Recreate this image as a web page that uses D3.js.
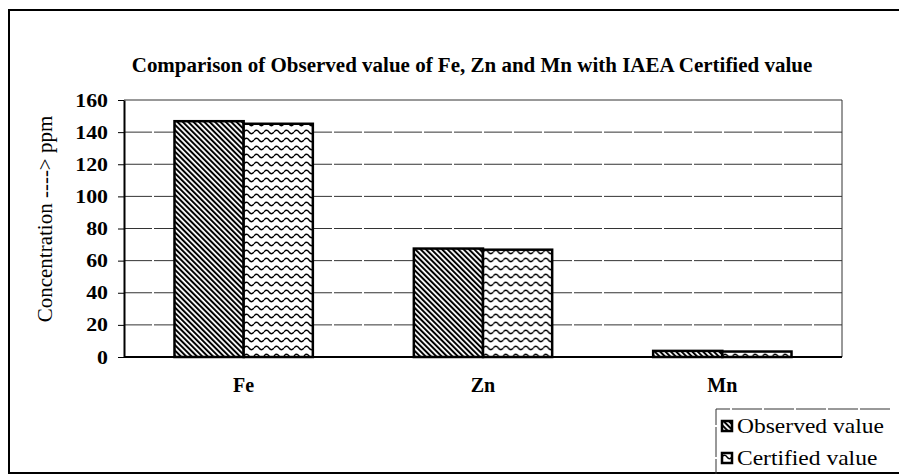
<!DOCTYPE html>
<html>
<head>
<meta charset="utf-8">
<script src="https://cdn.jsdelivr.net/npm/d3@7"></script>
<style>
  html, body { margin: 0; padding: 0; background: #fff; }
  svg, svg text { font-family: "Liberation Serif", "Times New Roman", "DejaVu Serif", serif; }
</style>
</head>
<body>
<div id="chart"></div>
<script>
// data
const elements = ["Fe", "Zn", "Mn"];
const seriesNames = ["Observed value", "Certified value"];
const observed = [146.8, 67.5, 3.8];
const certified = [145.2, 66.8, 3.4];
const yTicks = [0, 20, 40, 60, 80, 100, 120, 140, 160];

const width = 899, height = 476;
const plot = { left: 124, right: 842, top: 100, bottom: 357 };
const serif = "Liberation Serif, Times New Roman, serif";

const svg = d3.select("#chart").append("svg")
  .attr("width", width).attr("height", height)
  .attr("font-family", serif);

// hatch patterns
const defs = svg.append("defs");
const diag = defs.append("pattern")
  .attr("id", "pat-obs").attr("patternUnits", "userSpaceOnUse")
  .attr("width", 3.8).attr("height", 3.8)
  .attr("patternTransform", "rotate(-45)");
diag.append("rect").attr("width", 3.8).attr("height", 3.8).attr("fill", "#fff");
diag.append("line").attr("x1", 1).attr("x2", 1).attr("y1", 0).attr("y2", 3.8)
  .attr("stroke", "#000").attr("stroke-width", 2);

const wave = defs.append("pattern")
  .attr("id", "pat-cert").attr("patternUnits", "userSpaceOnUse")
  .attr("width", 10).attr("height", 8);
wave.append("rect").attr("width", 10).attr("height", 8).attr("fill", "#fff");
wave.append("path").attr("d", "M0,4 Q2.5,0.5 5,4 T10,4")
  .attr("fill", "none").attr("stroke", "#000").attr("stroke-width", 1.3);

const fills = { "Observed value": "url(#pat-obs)", "Certified value": "url(#pat-cert)" };

// outer frame (right side is cropped off in the source)
svg.append("path")
  .attr("d", `M${width},10 H9 V473 H${width}`)
  .attr("fill", "none").attr("stroke", "#000").attr("stroke-width", 2);

// title
svg.append("text")
  .attr("transform", "translate(472,72) scale(1.05,1)")
  .attr("text-anchor", "middle")
  .attr("font-family", serif)
  .attr("font-size", 20).attr("font-weight", "bold")
  .text("Comparison of Observed value of Fe, Zn and Mn with IAEA Certified value");

const x0 = d3.scaleBand().domain(elements).range([plot.left, plot.right]);
const x1 = d3.scaleBand().domain(seriesNames).range([0, x0.bandwidth()]).paddingOuter(0.73);
const y = d3.scaleLinear().domain([0, 160]).range([plot.bottom, plot.top]);

// gridlines
svg.append("g").selectAll("line")
  .data(yTicks.filter(d => d > 0))
  .join("line")
  .attr("x1", plot.left).attr("x2", plot.right)
  .attr("y1", d => y(d)).attr("y2", d => y(d))
  .attr("stroke", "#333").attr("stroke-width", 1)
  .attr("stroke-dasharray", d => d === 160 ? null : "28,2");

// right border of plot
svg.append("line")
  .attr("x1", plot.right).attr("x2", plot.right)
  .attr("y1", plot.top).attr("y2", plot.bottom)
  .attr("stroke", "#333").attr("stroke-width", 1);

// y axis
const yAxis = svg.append("g")
  .attr("transform", `translate(${plot.left},0)`)
  .call(d3.axisLeft(y).tickValues(yTicks).tickSize(6).tickSizeOuter(0));
yAxis.select(".domain").attr("stroke", "#000").attr("stroke-width", 2);
yAxis.selectAll(".tick line").attr("stroke", "#000").attr("stroke-width", 1);
yAxis.selectAll(".tick text")
  .attr("x", null).attr("dy", null)
  .attr("transform", "translate(-16,6) scale(1.15,1)")
  .attr("font-family", serif)
  .attr("font-size", 19).attr("font-weight", "bold").attr("fill", "#000");

// y label
svg.append("text")
  .attr("transform", "translate(52,219) rotate(-90) scale(1.05,1)")
  .attr("text-anchor", "middle")
  .attr("font-family", serif)
  .attr("font-size", 20)
  .text("Concentration ----> ppm");

// bars
const groups = svg.append("g").selectAll("g")
  .data(elements.map((el, i) => ({ el, vals: [observed[i], certified[i]] })))
  .join("g")
  .attr("transform", d => `translate(${x0(d.el)},0)`);

groups.selectAll("rect")
  .data(d => d.vals.map((v, j) => ({ name: seriesNames[j], v })))
  .join("rect")
  .attr("x", d => x1(d.name))
  .attr("width", x1.bandwidth())
  .attr("y", d => y(d.v))
  .attr("height", d => y(0) - y(d.v))
  .attr("fill", d => fills[d.name])
  .attr("stroke", "#000").attr("stroke-width", 2.5);

// x axis line
svg.append("line")
  .attr("x1", plot.left).attr("x2", plot.right)
  .attr("y1", plot.bottom).attr("y2", plot.bottom)
  .attr("stroke", "#000").attr("stroke-width", 2);

// category labels
svg.append("g").selectAll("text")
  .data(elements)
  .join("text")
  .attr("x", d => x0(d) + x0.bandwidth() / 2)
  .attr("y", 392)
  .attr("text-anchor", "middle")
  .attr("font-family", serif)
  .attr("font-size", 20).attr("font-weight", "bold")
  .text(d => d);

// legend
const legend = svg.append("g");
legend.append("path")
  .attr("d", "M890,409 H716 V474")
  .attr("fill", "none").attr("stroke", "#333").attr("stroke-width", 1)
  .attr("stroke-dasharray", "30,2");
const items = legend.selectAll("g.item")
  .data(seriesNames)
  .join("g").attr("class", "item")
  .attr("transform", (d, i) => `translate(722,${421 + i * 32})`);
items.append("rect")
  .attr("width", 10).attr("height", 10)
  .attr("fill", d => fills[d])
  .attr("stroke", "#000").attr("stroke-width", 2.5);
items.append("text")
  .attr("transform", "translate(15,12) scale(1.12,1)")
  .attr("font-family", serif)
  .attr("font-size", 21)
  .text(d => d);
</script>
</body>
</html>
